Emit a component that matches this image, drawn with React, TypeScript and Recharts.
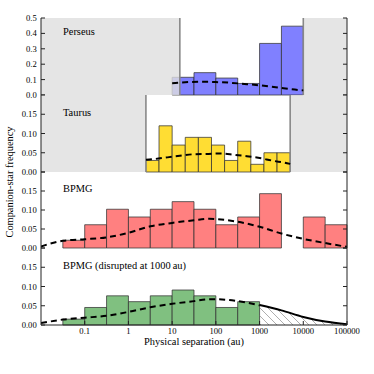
import React from 'react';
import { ComposedChart, Line, Area, XAxis, YAxis, ReferenceArea, ReferenceLine } from 'recharts';

const FONT = '"Liberation Serif", "Times New Roman", serif';
const X_DOMAIN: [number, number] = [0.01, 100000];
const X_TICKS = [0.1, 1, 10, 100, 1000, 10000, 100000];

// Perseus
const PERSEUS_EDGES = [10, 31.62, 100, 316.2, 1000, 3162, 10000];
const PERSEUS_FREQ = [0.115, 0.145, 0.11, 0.075, 0.335, 0.447];
const PERSEUS_MODEL_SEP = [10, 14, 20, 42, 100, 200, 445, 1000, 1900, 3500, 7600, 10000];
const PERSEUS_MODEL_FREQ = [0.077, 0.08, 0.083, 0.086, 0.084, 0.08, 0.072, 0.063, 0.054, 0.044, 0.033, 0.03];
const PERSEUS_LIMITS = [15, 10000];

// Taurus
const TAURUS_EDGES = [2.512, 5.012, 10, 19.95, 39.81, 79.43, 158.5, 316.2, 631, 1259, 2512, 5012];
const TAURUS_FREQ = [0.03, 0.12, 0.07, 0.09, 0.09, 0.07, 0.03, 0.08, 0.02, 0.05, 0.05];
const TAURUS_MODEL_SEP = [2.512, 3.4, 7.8, 15, 30, 68, 125, 253, 510, 930, 2070, 3800, 5012];
const TAURUS_MODEL_FREQ = [0.032, 0.033, 0.038, 0.042, 0.046, 0.047, 0.048, 0.045, 0.041, 0.037, 0.029, 0.024, 0.021];
const TAURUS_LIMITS = [2.512, 5012];

// BPMG
const BPMG_EDGES = [0.03162, 0.1, 0.3162, 1, 3.162, 10, 31.62, 100, 316.2, 1000, 3162, 10000, 31623, 100000];
const BPMG_FREQ = [0.0204, 0.0612, 0.102, 0.0816, 0.102, 0.122, 0.102, 0.0612, 0.0816, 0.143, 0, 0.0816, 0.0612];
const BPMG_MODEL_SEP = [0.01, 0.03162, 0.1, 0.3162, 1, 3.162, 10, 31.62, 70, 100, 316.2, 1000, 3162, 10000, 31623, 100000];
const BPMG_MODEL_FREQ = [0.004, 0.019, 0.023, 0.028, 0.04, 0.057, 0.066, 0.073, 0.077, 0.076, 0.069, 0.056, 0.038, 0.024, 0.013, 0.003];

// BPMG disrupted at 1000 au
const DISR_EDGES = [0.03162, 0.1, 0.3162, 1, 3.162, 10, 31.62, 100, 316.2, 1000];
const DISR_FREQ = [0.0152, 0.0455, 0.0758, 0.0606, 0.0758, 0.0909, 0.0758, 0.0455, 0.0606];
const DISR_MODEL_SEP = [0.01, 0.03162, 0.1, 0.3162, 1, 3.162, 10, 31.62, 70, 100, 316.2, 1000];
const DISR_MODEL_FREQ = [0.005, 0.014, 0.019, 0.024, 0.034, 0.046, 0.055, 0.062, 0.067, 0.067, 0.062, 0.051];
const DISR_TAIL_SEP = [1000, 3162, 10000, 31623, 100000];
const DISR_TAIL_FREQ = [0.052, 0.038, 0.021, 0.009, 0.002];

const PANEL_LABELS = ['Perseus', 'Taurus', 'BPMG', 'BPMG (disrupted at 1000\u2009au)'];
const Y_TICKS_BIG = [0, 0.1, 0.2, 0.3, 0.4, 0.5];
const Y_TICKS_SMALL = [0, 0.05, 0.1, 0.15, 0.2];

const PAD = 8;
const TICK_STYLE = { fontSize: 8.6, fill: '#000', fontFamily: FONT };
const AXIS_COLOR = '#222';

type PanelProps = {
  top: number;
  height: number;
  yMax: number;
  yTicks: number[];
  yDigits: number;
  edges: number[];
  freq: number[];
  color: string;
  limits?: number[];
  modelSep: number[];
  modelFreq: number[];
  tailSep?: number[];
  tailFreq?: number[];
  bottom?: boolean;
};

function Panel(p: PanelProps) {
  const model = p.modelSep.map((x, i) => ({ x, y: p.modelFreq[i] }));
  const tail = p.tailSep ? p.tailSep.map((x, i) => ({ x, y: (p.tailFreq as number[])[i] })) : null;
  const bottomH = p.bottom ? 32 : 0;
  const chartH = PAD + p.height + bottomH + PAD;
  const bins = p.freq
    .map((v, i) => ({ x1: p.edges[i], x2: p.edges[i + 1], v }))
    .filter((b) => b.v > 0);
  const yFmt = (v: number) => (v > p.yMax - 1e-9 && p.yDigits === 2 ? '' : v.toFixed(p.yDigits));
  return (
    <div style={{ position: 'absolute', left: 0, top: p.top - PAD }}>
      <ComposedChart width={374} height={chartH} margin={{ top: PAD, right: 0, bottom: PAD, left: 0 }}>
        <defs>
          <pattern id="hatch" patternUnits="userSpaceOnUse" width="8" height="8">
            <path d="M0,0 L8,8 M-2,6 L2,10 M6,-2 L10,2" stroke="#777" strokeWidth="0.6" />
          </pattern>
        </defs>
        {bins.map((b, i) => (
          <ReferenceArea
            key={'b' + i}
            x1={b.x1}
            x2={b.x2}
            y1={0}
            y2={b.v}
            fill={p.color}
            fillOpacity={1}
            stroke="#333"
            strokeOpacity={0.75}
            strokeWidth={1}
            ifOverflow="visible"
            zIndex={100}
          />
        ))}
        {p.limits && (
          <ReferenceArea x2={p.limits[0]} fill="#dedede" fillOpacity={0.8} stroke="none" ifOverflow="visible" zIndex={150} />
        )}
        {p.limits && (
          <ReferenceArea x1={p.limits[1]} fill="#dedede" fillOpacity={0.8} stroke="none" ifOverflow="visible" zIndex={150} />
        )}
        {p.limits && p.limits.map((l, i) => (
          <ReferenceLine key={'l' + i} x={l} stroke="#888" strokeWidth={1.6} ifOverflow="visible" zIndex={160} />
        ))}
        {tail && (
          <Area
            data={tail}
            dataKey="y"
            type="monotone"
            stroke="#000"
            strokeWidth={2}
            fill="url(#hatch)"
            fillOpacity={1}
            isAnimationActive={false}
            dot={false}
            activeDot={false}
            zIndex={300}
          />
        )}
        <Line
          data={model}
          dataKey="y"
          type="monotone"
          stroke="#000"
          strokeWidth={2}
          strokeDasharray="6 4"
          dot={false}
          activeDot={false}
          isAnimationActive={false}
          zIndex={400}
        />
        <XAxis
          dataKey="x"
          type="number"
          scale="log"
          domain={X_DOMAIN}
          ticks={X_TICKS}
          allowDataOverflow
          interval={0}
          orientation="bottom"
          height={bottomH}
          tickSize={-4}
          tickMargin={6.5}
          stroke={AXIS_COLOR}
          tick={TICK_STYLE}
          tickFormatter={p.bottom ? (v: number) => String(v) : () => ''}
          label={
            p.bottom
              ? { value: 'Physical separation (au)', position: 'insideBottom', offset: 12, style: { fontSize: 10.4, fontFamily: FONT, fill: '#000' } }
              : undefined
          }
        />
        <XAxis
          xAxisId="t"
          dataKey="x"
          type="number"
          scale="log"
          domain={X_DOMAIN}
          ticks={X_TICKS}
          allowDataOverflow
          interval={0}
          orientation="top"
          height={0}
          tickSize={-4}
          stroke={AXIS_COLOR}
          tickFormatter={() => ''}
        />
        <YAxis
          type="number"
          domain={[0, p.yMax]}
          ticks={p.yTicks}
          allowDataOverflow
          interval={0}
          width={41}
          tickSize={-4}
          tickMargin={8.3}
          stroke={AXIS_COLOR}
          tick={TICK_STYLE}
          tickFormatter={yFmt}
        />
        <YAxis
          yAxisId="r"
          orientation="right"
          type="number"
          domain={[0, p.yMax]}
          ticks={p.yTicks}
          allowDataOverflow
          interval={0}
          width={27}
          tickSize={-4}
          stroke={AXIS_COLOR}
          tickFormatter={() => ''}
        />
      </ComposedChart>
    </div>
  );
}

const LABEL_BASELINES = [34.5, 115.5, 191.5, 268.5];

export default function App() {
  return (
    <div style={{ position: 'absolute', left: 0, top: 0, width: 374, height: 374, background: '#fff', overflow: 'hidden' }}>
      <Panel
        top={18}
        height={77}
        yMax={0.5}
        yTicks={Y_TICKS_BIG}
        yDigits={1}
        edges={PERSEUS_EDGES}
        freq={PERSEUS_FREQ}
        color="#8080ff"
        limits={PERSEUS_LIMITS}
        modelSep={PERSEUS_MODEL_SEP}
        modelFreq={PERSEUS_MODEL_FREQ}
      />
      <Panel
        top={95}
        height={77}
        yMax={0.2}
        yTicks={Y_TICKS_SMALL}
        yDigits={2}
        edges={TAURUS_EDGES}
        freq={TAURUS_FREQ}
        color="#ffdd33"
        limits={TAURUS_LIMITS}
        modelSep={TAURUS_MODEL_SEP}
        modelFreq={TAURUS_MODEL_FREQ}
      />
      <Panel
        top={172}
        height={76}
        yMax={0.2}
        yTicks={Y_TICKS_SMALL}
        yDigits={2}
        edges={BPMG_EDGES}
        freq={BPMG_FREQ}
        color="#ff8080"
        modelSep={BPMG_MODEL_SEP}
        modelFreq={BPMG_MODEL_FREQ}
      />
      <Panel
        top={248}
        height={77}
        yMax={0.2}
        yTicks={Y_TICKS_SMALL}
        yDigits={2}
        edges={DISR_EDGES}
        freq={DISR_FREQ}
        color="#80c080"
        modelSep={DISR_MODEL_SEP}
        modelFreq={DISR_MODEL_FREQ}
        tailSep={DISR_TAIL_SEP}
        tailFreq={DISR_TAIL_FREQ}
        bottom
      />
      <svg width={374} height={374} style={{ position: 'absolute', left: 0, top: 0, pointerEvents: 'none' }}>
        {PANEL_LABELS.map((t, i) => (
          <text key={i} x={63} y={LABEL_BASELINES[i]} fontSize={10.4} fontFamily={FONT} fill="#000">
            {t}
          </text>
        ))}
        <text
          x={0}
          y={0}
          transform="translate(13.2, 182) rotate(-90)"
          textAnchor="middle"
          fontSize={10.4}
          fontFamily={FONT}
          fill="#000"
        >
          Companion-star frequency
        </text>
      </svg>
    </div>
  );
}
